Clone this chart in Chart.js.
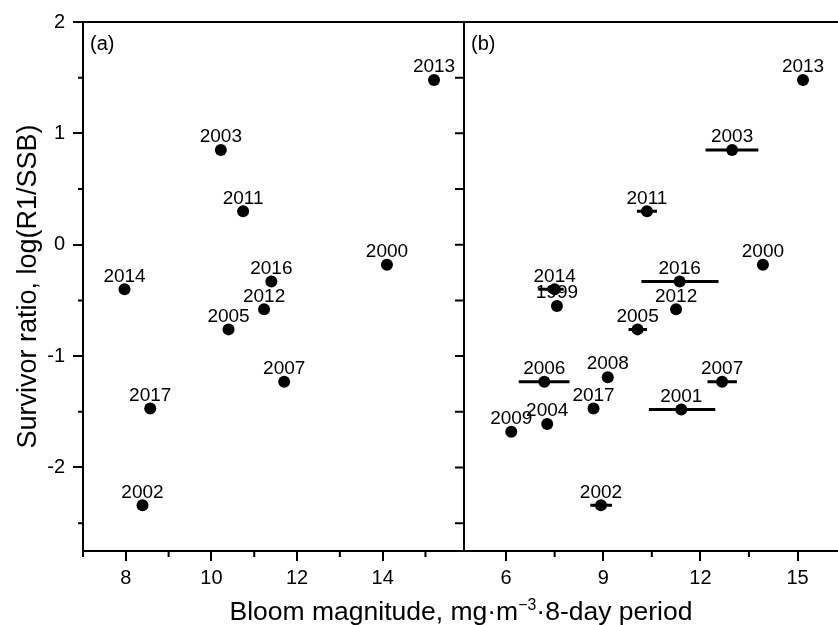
<!DOCTYPE html>
<html>
<head>
<meta charset="utf-8">
<script src="https://cdn.jsdelivr.net/npm/chart.js@4.4.1/dist/chart.umd.min.js"></script>
<style>
  body { margin: 0; background: #fff; }
  #wrap { position: relative; width: 838px; height: 625px; overflow: hidden; font-family: "Liberation Sans", Arial, sans-serif; }
  #left { position: absolute; left: 0; top: 0; }
  #right { position: absolute; left: 462px; top: 0; }
  #xtitle { position: absolute; left: 0; top: 598px; width: 922px; text-align: center; font-size: 26.5px; line-height: 26px; color: #000; white-space: nowrap; }
  #xtitle sup { font-size: 0.6em; line-height: 0; vertical-align: 0.6em; }
</style>
</head>
<body>
<div id="wrap">
  <canvas id="left" width="466" height="625" style="width:466px;height:625px"></canvas>
  <canvas id="right" width="376" height="625" style="width:376px;height:625px"></canvas>
  <div id="xtitle">Bloom magnitude, mg·m<sup>−3</sup>·8-day period</div>
</div>
<script>
// panel (a)
const yearsA = ['2013', '2003', '2011', '2000', '2014', '2016', '2012', '2005', '2007', '2017', '2002'];
const bloomA = [15.2, 10.22, 10.74, 14.1, 7.97, 11.4, 11.23, 10.4, 11.7, 8.57, 8.39];
const ratioA = [1.48, 0.85, 0.30, -0.18, -0.40, -0.33, -0.58, -0.76, -1.23, -1.47, -2.34];

// panel (b), with bloom range (horizontal bars) where there is one
const yearsB = ['2013', '2003', '2011', '2000', '2016', '2014', '1999', '2012', '2005', '2006', '2008', '2007', '2017', '2001', '2004', '2009', '2002'];
const bloomB = [15.17, 12.98, 10.35, 13.93, 11.36, 7.5, 7.57, 11.25, 10.06, 7.18, 9.14, 12.67, 8.7, 11.41, 7.27, 6.16, 8.93];
const ratioB = [1.48, 0.85, 0.30, -0.18, -0.33, -0.40, -0.55, -0.58, -0.76, -1.23, -1.19, -1.23, -1.47, -1.48, -1.61, -1.68, -2.34];
const lowB  = [null, 12.16, 10.04, 13.76, 10.18, 6.99, null, null, 9.78, 6.39, null, 12.22, null, 10.41, null, null, 8.6];
const highB = [null, 13.79, 10.66, 14.1, 12.56, 7.78, null, null, 10.35, 7.96, null, 13.13, null, 12.46, null, null, 9.27];

// ticks
const yTicks = [-2, -1, 0, 1, 2];
const yMinor = [-2.5, -1.5, -0.5, 0.5, 1.5];
const yAll = [-2.5, -2, -1.5, -1, -0.5, 0, 0.5, 1, 1.5, 2];
const xTicksA = [8, 10, 12, 14];
const xMinorA = [7, 9, 11, 13, 15];
const xTicksB = [6, 9, 12, 15];
const xMinorB = [7.5, 10.5, 13.5];

const FONT = '"Liberation Sans", Arial, sans-serif';
Chart.defaults.font.family = FONT;
Chart.defaults.color = '#000';

const framePlugin = {
  id: 'frame',
  beforeDatasetsDraw(chart, args, opts) {
    // year labels go under the marks, as in the original
    const {ctx} = chart;
    const meta = chart.getDatasetMeta(0);
    ctx.save();
    ctx.fillStyle = '#000';
    ctx.font = '19px ' + FONT;
    ctx.textAlign = 'center';
    ctx.textBaseline = 'middle';
    meta.data.forEach((pt, i) => ctx.fillText(opts.labels[i], pt.x, pt.y - 13));
    ctx.restore();
  },
  afterDatasetsDraw(chart, args, opts) {
    const {ctx, chartArea: a, scales: {x, y}} = chart;
    ctx.save();
    ctx.strokeStyle = '#000';
    ctx.lineWidth = 2;
    ctx.beginPath();
    ctx.moveTo(a.left - 1, a.top);
    ctx.lineTo(a.right + 1, a.top);
    if (opts.leftBorder) {
      ctx.moveTo(a.left, a.top);
      ctx.lineTo(a.left, a.bottom + 1);
    }
    if (opts.rightBorder) {
      ctx.moveTo(a.right, a.top);
      ctx.lineTo(a.right, a.bottom + 1);
    }
    (opts.minorX || []).forEach(v => {
      const px = x.getPixelForValue(v);
      ctx.moveTo(px, a.bottom);
      ctx.lineTo(px, a.bottom + 6);
    });
    (opts.minorY || []).forEach(v => {
      const py = y.getPixelForValue(v);
      ctx.moveTo(a.left, py);
      ctx.lineTo(a.left - 5, py);
    });
    (opts.innerRight || []).forEach(v => {
      const py = y.getPixelForValue(v);
      ctx.moveTo(a.right, py);
      ctx.lineTo(a.right - 9, py);
    });
    ctx.stroke();
    ctx.fillStyle = '#000';
    ctx.font = '20px ' + FONT;
    ctx.textBaseline = 'middle';
    ctx.fillText(opts.panel, a.left + 7, a.top + 22);
    ctx.restore();
  }
};

function xAxis(min, max, ticks) {
  return {
    type: 'linear', min: min, max: max,
    afterBuildTicks: s => { s.ticks = ticks.map(v => ({value: v})); },
    afterFit: s => { s.height = 74; },
    grid: { drawOnChartArea: false, drawTicks: true, tickLength: 10, lineWidth: 2, color: '#000' },
    border: { display: true, color: '#000', width: 2 },
    ticks: { font: { size: 20 }, color: '#000', padding: 5, maxRotation: 0, autoSkip: false }
  };
}

const common = {
  responsive: false,
  animation: false,
  events: [],
  plugins: { legend: { display: false }, tooltip: { enabled: false } }
};

new Chart(document.getElementById('left'), {
  type: 'scatter',
  data: {
    datasets: [{
      data: bloomA.map((v, i) => ({x: v, y: ratioA[i]})),
      pointRadius: 6, backgroundColor: '#000', borderWidth: 0
    }]
  },
  options: {
    ...common,
    layout: { autoPadding: false, padding: { top: 22, right: 2, bottom: 0, left: 0 } },
    scales: {
      x: xAxis(7, 15.9, xTicksA),
      y: {
        min: -2.75, max: 2,
        afterBuildTicks: s => { s.ticks = yTicks.map(v => ({value: v})); },
        afterFit: s => { s.width = 83; },
        grid: { drawOnChartArea: false, drawTicks: true, tickLength: 10, lineWidth: 2, color: '#000' },
        border: { display: true, color: '#000', width: 2 },
        ticks: { font: { size: 20 }, color: '#000', padding: 8 },
        title: { display: true, text: 'Survivor ratio, log(R1/SSB)', font: { size: 27 }, color: '#000', padding: { top: 12, bottom: 0 } }
      }
    },
    plugins: {
      ...common.plugins,
      frame: { labels: yearsA, panel: '(a)', minorX: xMinorA, minorY: yMinor, innerRight: yAll, rightBorder: true }
    }
  },
  plugins: [framePlugin]
});

const barData = [];
yearsB.forEach((yr, i) => {
  if (lowB[i] == null) return;
  barData.push({x: lowB[i], y: ratioB[i]}, {x: highB[i], y: ratioB[i]}, {x: highB[i], y: null});
});

new Chart(document.getElementById('right'), {
  type: 'scatter',
  data: {
    datasets: [{
      data: bloomB.map((v, i) => ({x: v, y: ratioB[i]})),
      pointRadius: 6, backgroundColor: '#000', borderWidth: 0, order: 0
    }, {
      data: barData,
      showLine: true, spanGaps: false, pointRadius: 0,
      borderColor: '#000', borderWidth: 3, order: 1
    }]
  },
  options: {
    ...common,
    layout: { autoPadding: false, padding: { top: 22, right: 0, bottom: 0, left: 2 } },
    scales: {
      x: xAxis(4.7, 16.25, xTicksB),
      y: { display: false, min: -2.75, max: 2 }
    },
    plugins: {
      ...common.plugins,
      frame: { labels: yearsB, panel: '(b)', minorX: xMinorB, leftBorder: true }
    }
  },
  plugins: [framePlugin]
});
</script>
</body>
</html>
